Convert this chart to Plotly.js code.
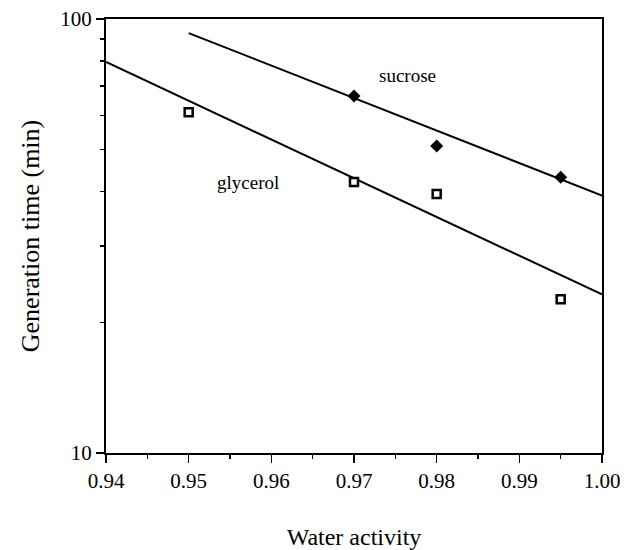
<!DOCTYPE html>
<html>
<head>
<meta charset="utf-8">
<script src="https://cdn.plot.ly/plotly-3.0.1.min.js"></script>
<style>html,body{margin:0;padding:0;background:#fff;}#chart{width:624px;height:550px;}</style>
</head>
<body>
<div id="chart"></div>
<script>
// Measured data points
const sucroseAw = [0.97, 0.98, 0.995];
const sucroseGen = [66.5, 51.0, 43.2];
const glycerolAw = [0.95, 0.97, 0.98, 0.995];
const glycerolGen = [61.0, 42.1, 39.5, 22.6];
// Fitted regression lines (endpoints)
const sucroseFitAw = [0.95, 1.00];
const sucroseFitGen = [92.8, 39.2];
const glycerolFitAw = [0.94, 1.00];
const glycerolFitGen = [79.6, 23.2];
// Tick labels
const xTickVals = [0.94, 0.95, 0.96, 0.97, 0.98, 0.99, 1.00];
const xTickText = ['0.94', '0.95', '0.96', '0.97', '0.98', '0.99', '1.00'];
const yTickVals = [10, 100];
const yTickText = ['10', '100'];
const yMinorVals = [20, 30, 40, 50, 60, 70, 80, 90];

const font = "'Liberation Serif', 'Times New Roman', serif";

const traces = [
  {x: sucroseFitAw, y: sucroseFitGen, mode: 'lines', line: {color: '#000', width: 2}, hoverinfo: 'skip'},
  {x: glycerolFitAw, y: glycerolFitGen, mode: 'lines', line: {color: '#000', width: 2}, hoverinfo: 'skip'},
  {x: sucroseAw, y: sucroseGen, mode: 'markers', name: 'sucrose',
   marker: {symbol: 'diamond', size: 10, color: '#000'}},
  {x: glycerolAw, y: glycerolGen, mode: 'markers', name: 'glycerol',
   marker: {symbol: 'square', size: 8, color: '#fff', line: {color: '#000', width: 2.5}}}
];

const layout = {
  width: 624, height: 550,
  margin: {l: 106, r: 22, t: 19, b: 97},
  paper_bgcolor: '#fff', plot_bgcolor: '#fff',
  showlegend: false,
  font: {family: font, color: '#000', size: 18},
  xaxis: {
    range: [0.94, 1.00],
    tickmode: 'array', tickvals: xTickVals, ticktext: xTickText,
    ticks: 'outside', ticklen: 8, tickwidth: 1.5, tickcolor: '#000',
    minor: {dtick: 0.005, tick0: 0.94, ticks: 'outside', ticklen: 4, tickwidth: 1.5, tickcolor: '#000'},
    showline: true, linecolor: '#000', linewidth: 2, mirror: true,
    showgrid: false, zeroline: false,
    tickfont: {family: font, size: 21, color: '#000'},
    title: {text: 'Water activity', font: {family: font, size: 24, color: '#000'}, standoff: 41}
  },
  yaxis: {
    type: 'log', range: [1, 2],
    tickmode: 'array', tickvals: yTickVals, ticktext: yTickText,
    ticks: 'outside', ticklen: 8, tickwidth: 1.5, tickcolor: '#000',
    minor: {tickmode: 'array', tickvals: yMinorVals, ticks: 'outside', ticklen: 4, tickwidth: 1.5, tickcolor: '#000'},
    showline: true, linecolor: '#000', linewidth: 2, mirror: true,
    showgrid: false, zeroline: false,
    tickfont: {family: font, size: 21, color: '#000'},
    title: {text: 'Generation time (min)', font: {family: font, size: 26, color: '#000'}, standoff: 13}
  },
  annotations: [
    {x: 0.9765, y: Math.log10(74), xref: 'x', yref: 'y', text: 'sucrose', showarrow: false,
     font: {family: font, size: 19, color: '#000'}},
    {x: 0.9572, y: Math.log10(41.9), xref: 'x', yref: 'y', text: 'glycerol', showarrow: false,
     font: {family: font, size: 19, color: '#000'}}
  ]
};

Plotly.newPlot('chart', traces, layout, {staticPlot: true, displayModeBar: false});
</script>
</body>
</html>
